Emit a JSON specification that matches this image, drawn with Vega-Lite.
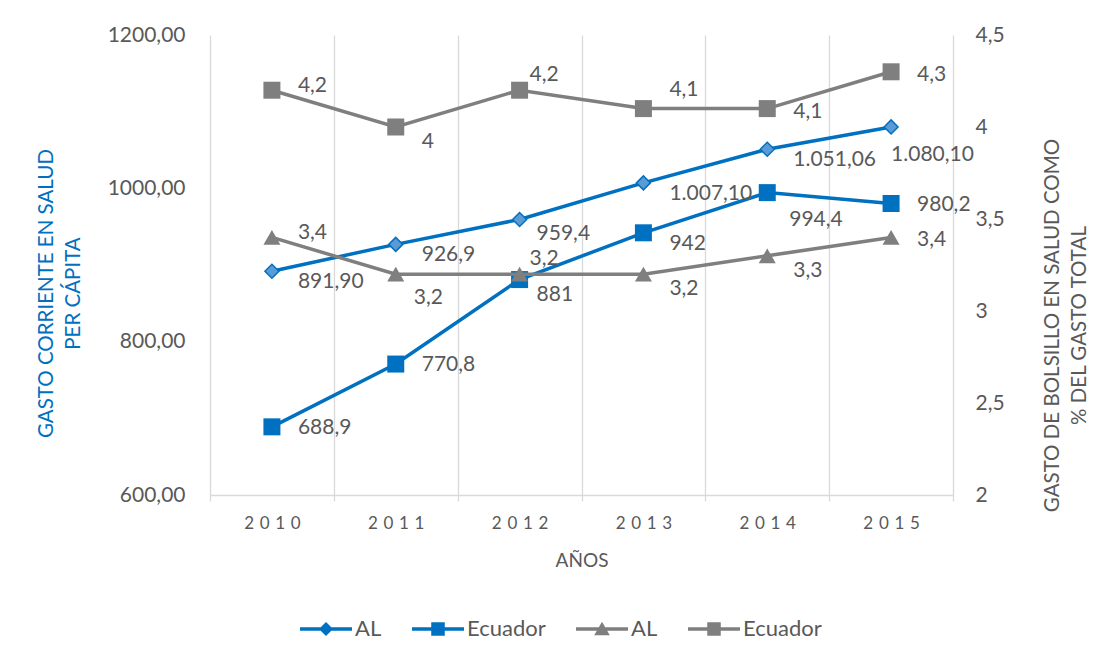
{
  "$schema": "https://vega.github.io/schema/vega-lite/v6.json",
  "width": 743,
  "height": 460,
  "autosize": {"type": "none"},
  "padding": {"left": 210, "top": 35, "right": 146, "bottom": 169},
  "background": "white",
  "config": {"font": "Lato", "view": {"stroke": null}},
  "data": {
    "values": [
      {"year": "2010", "serie": "AL_g", "value": 891.9, "label": "891,90"},
      {"year": "2011", "serie": "AL_g", "value": 926.9, "label": "926,9"},
      {"year": "2012", "serie": "AL_g", "value": 959.4, "label": "959,4"},
      {"year": "2013", "serie": "AL_g", "value": 1007.1, "label": "1.007,10"},
      {"year": "2014", "serie": "AL_g", "value": 1051.06, "label": "1.051,06"},
      {"year": "2015", "serie": "AL_g", "value": 1080.1, "label": "1.080,10"},
      {"year": "2010", "serie": "EC_g", "value": 688.9, "label": "688,9"},
      {"year": "2011", "serie": "EC_g", "value": 770.8, "label": "770,8"},
      {"year": "2012", "serie": "EC_g", "value": 881, "label": "881"},
      {"year": "2013", "serie": "EC_g", "value": 942, "label": "942"},
      {"year": "2014", "serie": "EC_g", "value": 994.4, "label": "994,4"},
      {"year": "2015", "serie": "EC_g", "value": 980.2, "label": "980,2"},
      {"year": "2010", "serie": "AL_b", "value": 3.4, "label": "3,4"},
      {"year": "2011", "serie": "AL_b", "value": 3.2, "label": "3,2"},
      {"year": "2012", "serie": "AL_b", "value": 3.2, "label": "3,2"},
      {"year": "2013", "serie": "AL_b", "value": 3.2, "label": "3,2"},
      {"year": "2014", "serie": "AL_b", "value": 3.3, "label": "3,3"},
      {"year": "2015", "serie": "AL_b", "value": 3.4, "label": "3,4"},
      {"year": "2010", "serie": "EC_b", "value": 4.2, "label": "4,2"},
      {"year": "2011", "serie": "EC_b", "value": 4.0, "label": "4"},
      {"year": "2012", "serie": "EC_b", "value": 4.2, "label": "4,2"},
      {"year": "2013", "serie": "EC_b", "value": 4.1, "label": "4,1"},
      {"year": "2014", "serie": "EC_b", "value": 4.1, "label": "4,1"},
      {"year": "2015", "serie": "EC_b", "value": 4.3, "label": "4,3"}
    ]
  },
  "encoding": {
    "x": {
      "field": "year",
      "type": "ordinal",
      "scale": {"type": "band", "paddingInner": 0, "paddingOuter": 0},
      "axis": {
        "title": "AÑOS",
        "titleFontSize": 19,
        "titleColor": "#595959",
        "titleFontWeight": "normal",
        "titlePadding": 20,
        "labelFontSize": 17,
        "labelColor": "#595959",
        "labelPadding": 14,
        "labelAngle": 0,
        "labelExpr": "join(split(datum.label,''),'\u2004')",
        "tickBand": "extent",
        "grid": true,
        "gridColor": "#D9D9D9",
        "gridWidth": 1.3,
        "ticks": true,
        "tickColor": "#D9D9D9",
        "tickSize": 6,
        "tickWidth": 1.3,
        "domainColor": "#D9D9D9",
        "domainWidth": 1.3
      }
    }
  },
  "layer": [
    {
      "transform": [{"filter": "datum.serie=='AL_g' || datum.serie=='EC_g'"}],
      "encoding": {
        "y": {
          "field": "value",
          "type": "quantitative",
          "scale": {"domain": [600, 1200], "nice": false, "zero": false},
          "axis": {
            "orient": "left",
            "values": [600, 800, 1000, 1200],
            "labelExpr": "replace(format(datum.value,'.2f'),'.',',')",
            "labelFontSize": 21,
            "labelColor": "#595959",
            "labelPadding": 25,
            "ticks": false,
            "domain": false,
            "grid": false,
            "title": ["GASTO CORRIENTE EN SALUD", "PER CÁPITA"],
            "titleColor": "#0070C0",
            "titleFontSize": 20.5,
            "titleFontWeight": "normal",
            "titleAngle": 270,
            "titleBaseline": "bottom",
            "titleLineHeight": 27,
            "titleY": 258,
            "titlePadding": 24
          }
        }
      },
      "layer": [
        {
          "mark": {"type": "line", "strokeWidth": 3.5, "color": "#0070C0"},
          "encoding": {"detail": {"field": "serie"}}
        },
        {
          "transform": [{"filter": "false"}],
          "mark": {"type": "point", "filled": true, "opacity": 1},
          "encoding": {
            "color": {
              "field": "serie",
              "type": "nominal",
              "scale": {"domain": ["AL_g", "EC_g", "AL_b", "EC_b"], "range": ["#0070C0", "#0070C0", "#7F7F7F", "#7F7F7F"]},
              "legend": {
                "orient": "none",
                "legendX": 90,
                "legendY": 568,
                "direction": "horizontal",
                "title": null,
                "padding": 0,
                "symbolSize": 2704,
                "symbolStrokeWidth": 0,
                "labelFontSize": 22,
                "labelColor": "#595959",
                "labelOffset": 3,
                "columnPadding": 30,
                "labelExpr": "datum.value=='AL_g'||datum.value=='AL_b' ? 'AL' : 'Ecuador'"
              }
            },
            "shape": {
              "field": "serie",
              "type": "nominal",
              "scale": {
                "domain": ["AL_g", "EC_g", "AL_b", "EC_b"],
                "range": [
                  "M-1,-0.07H1V0.07H-1Z M0,-0.27L0.27,0L0,0.27L-0.27,0Z",
                  "M-1,-0.07H1V0.07H-1Z M-0.26,-0.26H0.26V0.26H-0.26Z",
                  "M-1,-0.07H1V0.07H-1Z M0,-0.28L0.3,0.24L-0.3,0.24Z",
                  "M-1,-0.07H1V0.07H-1Z M-0.26,-0.26H0.26V0.26H-0.26Z"
                ]
              }
            }
          }
        },
        {
          "transform": [{"filter": "datum.serie=='EC_g'"}],
          "mark": {"type": "point", "shape": "square", "filled": true, "color": "#0070C0", "opacity": 1, "size": 289}
        },
        {
          "transform": [{"filter": "datum.serie=='AL_g'"}],
          "mark": {"type": "point", "shape": "diamond", "filled": true, "fill": "#5B9BD5", "stroke": "#0070C0", "strokeWidth": 1.5, "opacity": 1, "size": 196}
        },
        {
          "transform": [{"filter": "indexof(['AL_g2010','AL_g2011','AL_g2013','AL_g2014','EC_g2013'], datum.serie+datum.year)>=0"}],
          "mark": {"type": "text", "align": "left", "baseline": "middle", "fontSize": 21, "color": "#595959", "dx": 26, "dy": 11},
          "encoding": {"text": {"field": "label"}}
        },
        {
          "transform": [{"filter": "indexof(['AL_g2012','EC_g2012'], datum.serie+datum.year)>=0"}],
          "mark": {"type": "text", "align": "left", "baseline": "middle", "fontSize": 21, "color": "#595959", "dx": 17, "dy": 15},
          "encoding": {"text": {"field": "label"}}
        },
        {
          "transform": [{"filter": "indexof(['EC_g2010','EC_g2011','EC_g2015'], datum.serie+datum.year)>=0"}],
          "mark": {"type": "text", "align": "left", "baseline": "middle", "fontSize": 21, "color": "#595959", "dx": 26, "dy": 1},
          "encoding": {"text": {"field": "label"}}
        },
        {
          "transform": [{"filter": "indexof(['AL_g2015'], datum.serie+datum.year)>=0"}],
          "mark": {"type": "text", "align": "left", "baseline": "middle", "fontSize": 21, "color": "#595959", "dx": 0, "dy": 28},
          "encoding": {"text": {"field": "label"}}
        },
        {
          "transform": [{"filter": "indexof(['EC_g2014'], datum.serie+datum.year)>=0"}],
          "mark": {"type": "text", "align": "left", "baseline": "middle", "fontSize": 21, "color": "#595959", "dx": 22, "dy": 27},
          "encoding": {"text": {"field": "label"}}
        }
      ]
    },
    {
      "transform": [{"filter": "datum.serie=='AL_b' || datum.serie=='EC_b'"}],
      "encoding": {
        "y": {
          "field": "value",
          "type": "quantitative",
          "scale": {"domain": [2, 4.5], "nice": false, "zero": false},
          "axis": {
            "orient": "right",
            "values": [2, 2.5, 3, 3.5, 4, 4.5],
            "labelExpr": "replace(format(datum.value,'~g'),'.',',')",
            "labelFontSize": 21,
            "labelColor": "#595959",
            "labelPadding": 22,
            "ticks": false,
            "domain": false,
            "grid": false,
            "title": ["GASTO DE BOLSILLO EN SALUD COMO", "% DEL GASTO TOTAL"],
            "titleColor": "#595959",
            "titleFontSize": 20.5,
            "titleFontWeight": "normal",
            "titleAngle": 270,
            "titleBaseline": "top",
            "titleLineHeight": 27,
            "titleY": 290,
            "titlePadding": 11
          }
        }
      },
      "layer": [
        {
          "mark": {"type": "line", "strokeWidth": 3.5, "color": "#7F7F7F"},
          "encoding": {"detail": {"field": "serie"}}
        },
        {
          "transform": [{"filter": "datum.serie=='AL_b'"}],
          "mark": {"type": "point", "shape": "triangle-up", "filled": true, "color": "#7F7F7F", "opacity": 1, "size": 289}
        },
        {
          "transform": [{"filter": "datum.serie=='EC_b'"}],
          "mark": {"type": "point", "shape": "square", "filled": true, "color": "#7F7F7F", "opacity": 1, "size": 289}
        },
        {
          "transform": [{"filter": "indexof(['EC_b2010','AL_b2010'], datum.serie+datum.year)>=0"}],
          "mark": {"type": "text", "align": "left", "baseline": "middle", "fontSize": 21, "color": "#595959", "dx": 26, "dy": -4},
          "encoding": {"text": {"field": "label"}}
        },
        {
          "transform": [{"filter": "indexof(['EC_b2011','AL_b2013','AL_b2014'], datum.serie+datum.year)>=0"}],
          "mark": {"type": "text", "align": "left", "baseline": "middle", "fontSize": 21, "color": "#595959", "dx": 26, "dy": 15},
          "encoding": {"text": {"field": "label"}}
        },
        {
          "transform": [{"filter": "indexof(['EC_b2014','EC_b2015','AL_b2015'], datum.serie+datum.year)>=0"}],
          "mark": {"type": "text", "align": "left", "baseline": "middle", "fontSize": 21, "color": "#595959", "dx": 26, "dy": 3},
          "encoding": {"text": {"field": "label"}}
        },
        {
          "transform": [{"filter": "indexof(['EC_b2012','AL_b2012'], datum.serie+datum.year)>=0"}],
          "mark": {"type": "text", "align": "left", "baseline": "middle", "fontSize": 21, "color": "#595959", "dx": 10, "dy": -15},
          "encoding": {"text": {"field": "label"}}
        },
        {
          "transform": [{"filter": "indexof(['EC_b2013'], datum.serie+datum.year)>=0"}],
          "mark": {"type": "text", "align": "left", "baseline": "middle", "fontSize": 21, "color": "#595959", "dx": 26, "dy": -19},
          "encoding": {"text": {"field": "label"}}
        },
        {
          "transform": [{"filter": "indexof(['AL_b2011'], datum.serie+datum.year)>=0"}],
          "mark": {"type": "text", "align": "left", "baseline": "middle", "fontSize": 21, "color": "#595959", "dx": 18, "dy": 24},
          "encoding": {"text": {"field": "label"}}
        }
      ]
    }
  ],
  "resolve": {"scale": {"y": "independent"}}
}
